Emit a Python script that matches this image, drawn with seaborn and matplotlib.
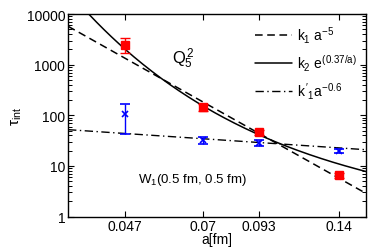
import numpy as np
import matplotlib
matplotlib.use("Agg")
from matplotlib import pyplot as plt
from matplotlib import ticker
import seaborn as sns

# lattice spacings [fm]
a_vals = [0.047, 0.07, 0.093, 0.14]
a_labels = ["0.047", "0.07", "0.093", "0.14"]

# Q_5^2 integrated autocorrelation times
tau_q = [2400, 145, 46, 6.6]
tau_q_lo = [700, 25, 6, 0.8]
tau_q_hi = [950, 25, 6, 0.8]

# W_1(0.5 fm, 0.5 fm)
tau_w = [105, 32, 29, 20]
tau_w_lo = [62, 5, 4, 2]
tau_w_hi = [65, 5, 4, 2]

# fit parameters
k1, p1 = 3.1e-4, -5.0
k2, c2 = 0.78, 0.37
k1p, p1p = 7.0, -0.6

sns.set_style("ticks")
plt.rcParams["font.family"] = ["Liberation Sans", "DejaVu Sans"]
plt.rcParams["mathtext.fontset"] = "custom"
plt.rcParams["mathtext.rm"] = "Liberation Sans"
plt.rcParams["mathtext.it"] = "Liberation Sans"
plt.rcParams["text.color"] = "black"
plt.rcParams["axes.labelcolor"] = "black"
plt.rcParams["xtick.color"] = "black"
plt.rcParams["ytick.color"] = "black"
plt.rcParams["axes.edgecolor"] = "black"

fig = plt.figure(figsize=(3.74, 2.51), dpi=100)
ax = fig.add_axes([0.182, 0.133, 0.797, 0.807])

xlim = (0.0352, 0.161)
a_fine = np.geomspace(xlim[0], xlim[1], 200)

sns.lineplot(x=a_fine, y=k1 * a_fine ** p1, ax=ax, color="black", lw=1.1,
             linestyle=(0, (5, 3)), label=r"$k_1\ a^{-5}$")
sns.lineplot(x=a_fine, y=k2 * np.exp(c2 / a_fine), ax=ax, color="black", lw=1.1,
             label=r"$k_2\ e^{(0.37/a)}$")
sns.lineplot(x=a_fine, y=k1p * a_fine ** p1p, ax=ax, color="black", lw=1.0,
             linestyle=(0, (6, 2.5, 1, 2.5)), label=r"$k'_1a^{-0.6}$")

ax.errorbar(a_vals, tau_q, yerr=[tau_q_lo, tau_q_hi], fmt="s", color="red",
            ms=5.5, capsize=3.5, elinewidth=1, capthick=1, zorder=5)
ax.errorbar(a_vals, tau_w, yerr=[tau_w_lo, tau_w_hi], fmt="x", color="blue",
            ms=5, mew=1.2, capsize=3.5, elinewidth=1, capthick=1, zorder=5)

ax.set_xscale("log")
ax.set_yscale("log")
ax.set_xlim(*xlim)
ax.set_ylim(1, 10000)
ax.set_xticks(a_vals)
ax.set_xticklabels(a_labels)
ax.xaxis.set_minor_locator(ticker.NullLocator())
ax.set_yticks([1, 10, 100, 1000, 10000])
ax.set_yticklabels(["1", "10", "100", "1000", "10000"])
ax.yaxis.set_minor_locator(ticker.FixedLocator(
    [m * 10.0 ** e for e in range(0, 4) for m in range(2, 10)]))
ax.yaxis.set_minor_formatter(ticker.NullFormatter())
ax.tick_params(which="both", direction="in", top=True, right=True, left=True,
               labelsize=10, width=0.8, pad=2)
ax.tick_params(which="major", length=4)
ax.tick_params(axis="y", which="minor", length=3, width=0.7, left=True, right=True)
for s in ax.spines.values():
    s.set_linewidth(1.0)

ax.set_xlabel("a[fm]", fontsize=10, labelpad=-1)
ax.set_ylabel(r"$\tau_{\mathrm{int}}$", fontsize=11, labelpad=2)

ax.text(0.0597, 1100, r"$Q_5^2$", fontsize=12, va="baseline")
ax.text(0.0502, 4.8, "W$_1$(0.5 fm, 0.5 fm)", fontsize=9.5, va="baseline")

ax.legend(loc="upper right", frameon=False, fontsize=10, handlelength=2.7,
          handletextpad=0.3, labelspacing=0.55, borderaxespad=0.3)

fig.savefig("out.png", dpi=100)
